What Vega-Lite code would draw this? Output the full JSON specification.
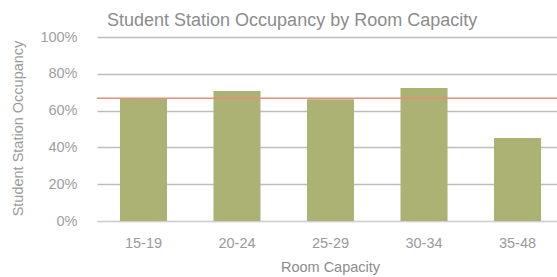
{
  "$schema": "https://vega.github.io/schema/vega-lite/v6.json",
  "width": 460,
  "height": 184,
  "autosize": {"type": "none"},
  "padding": {"left": 97, "top": 37, "right": 0, "bottom": 56},
  "background": "#ffffff",
  "config": {
    "view": {"stroke": null},
    "font": "Liberation Sans",
    "axisY": {
      "title": "Student Station Occupancy",
      "format": ".0%",
      "values": [0, 0.2, 0.4, 0.6, 0.8, 1],
      "labelFontSize": 14.5,
      "labelColor": "#a0a0a0",
      "labelPadding": 20,
      "labelOverlap": false,
      "labelFlush": false,
      "ticks": false,
      "domain": false,
      "grid": true,
      "gridColor": "#bdbdbd",
      "gridWidth": 1.5,
      "titleFontSize": 14.5,
      "titleFontWeight": "normal",
      "titleColor": "#9a9a9a",
      "titleX": -72,
      "titleY": 91
    }
  },
  "title": {
    "text": "Student Station Occupancy by Room Capacity",
    "anchor": "start",
    "frame": "group",
    "dx": 10,
    "offset": -1,
    "fontSize": 18,
    "fontWeight": "normal",
    "color": "#8c8c8c"
  },
  "datasets": {
    "bars": [
      {"capacity": "15-19", "occupancy": 0.663},
      {"capacity": "20-24", "occupancy": 0.706},
      {"capacity": "25-29", "occupancy": 0.662},
      {"capacity": "30-34", "occupancy": 0.723},
      {"capacity": "35-48", "occupancy": 0.451}
    ],
    "avg": [{"average": 0.667}]
  },
  "layer": [
    {
      "data": {"name": "bars"},
      "mark": {"type": "bar", "color": "#abb274"},
      "encoding": {
        "x": {
          "field": "capacity",
          "type": "nominal",
          "sort": null,
          "scale": {"paddingInner": 0.497, "paddingOuter": 0.208, "align": 0.59},
          "axis": {
            "title": "Room Capacity",
            "labelAngle": 0,
            "labelFontSize": 14.5,
            "labelColor": "#9a9a9a",
            "labelPadding": 15,
            "labelOverlap": false,
            "ticks": false,
            "domain": true,
            "domainColor": "#d0d0d0",
            "titleFontSize": 14.5,
            "titleFontWeight": "normal",
            "titleColor": "#8c8c8c",
            "titlePadding": 11,
            "titleX": 233
          }
        },
        "y": {
          "field": "occupancy",
          "type": "quantitative",
          "scale": {"domain": [0, 1], "nice": false},
          "axis": {"title": "Student Station Occupancy", "values": [0, 0.2, 0.4, 0.6, 0.8, 1]}
        }
      }
    },
    {
      "data": {"name": "avg"},
      "mark": {"type": "rule", "color": "#f08a78", "strokeWidth": 1.5},
      "encoding": {
        "y": {"field": "average", "type": "quantitative", "axis": {"title": "Student Station Occupancy", "values": [0, 0.2, 0.4, 0.6, 0.8, 1]}}
      }
    }
  ]
}
